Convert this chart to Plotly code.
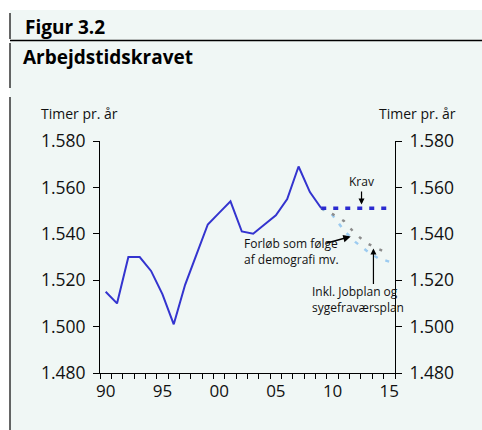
import plotly.graph_objects as go

# ---- data ----
years = list(range(1990, 2010))
hours = [1515, 1510, 1530, 1530, 1524, 1514, 1501, 1518, 1531, 1544,
         1549, 1554, 1541, 1540, 1544, 1548, 1555, 1569, 1558, 1551]
proj_years = [2009, 2010, 2011, 2012, 2013, 2014, 2015]
krav = [1551, 1551, 1551, 1551, 1551, 1551, 1551]
inkl_jobplan = [1551, 1548.5, 1545.5, 1540, 1536, 1533.5, 1531.5]
demografi = [1551, 1548, 1541.5, 1536.5, 1532.7, 1529.5, 1528]
x_tickvals = [1990, 1995, 2000, 2005, 2010, 2015]
x_ticktext = ["90", "95", "00", "05", "10", "15"]
y_tickvals = [1480, 1500, 1520, 1540, 1560, 1580]

W, H = 482, 430
L, R, T, B = 100, 395, 141, 373
BG = "#F0F7F5"
FONT = "Open Sans"


def px(x):
    return (x - L) / (R - L)


def py(y):
    return (B - y) / (B - T)


fig = go.Figure()
fig.add_trace(go.Scatter(x=proj_years, y=demografi, mode="lines",
                         line=dict(color="#9CCBF0", width=2.5, dash="4px,8px"),
                         showlegend=False, hoverinfo="skip"))
fig.add_trace(go.Scatter(x=proj_years, y=inkl_jobplan, mode="lines",
                         line=dict(color="#8C8C8C", width=2.5, dash="3px,9px"),
                         showlegend=False, hoverinfo="skip"))
fig.add_trace(go.Scatter(x=years, y=hours, mode="lines",
                         line=dict(color="#3434CF", width=2),
                         showlegend=False))
fig.add_trace(go.Scatter(x=proj_years, y=krav, mode="lines", yaxis="y2",
                         line=dict(color="#2B2BD0", width=3.5, dash="5px,7px"),
                         showlegend=False))

axis_common = dict(range=[1480, 1580], tickvals=y_tickvals, tickformat=",d",
                   showline=True, linecolor="black", linewidth=1,
                   ticks="outside", ticklen=6, tickcolor="black",
                   showgrid=False, zeroline=False, ticklabelstandoff=4,
                   tickfont=dict(family=FONT, size=17.5, color="#111111"))

fig.update_layout(
    width=W, height=H,
    margin=dict(l=L, r=W - R, t=T, b=H - B),
    paper_bgcolor=BG, plot_bgcolor=BG,
    separators=",.",
    xaxis=dict(range=[1989.5, 2015.5], tickvals=x_tickvals, ticktext=x_ticktext,
               ticks="", showline=True, linecolor="black", linewidth=1,
               showgrid=False, zeroline=False, ticklabelstandoff=3,
               tickfont=dict(family=FONT, size=17, color="#111111"),
               minor=dict(tickmode="array",
                          tickvals=[1989.5 + k for k in range(27)],
                          ticks="outside", ticklen=5, tickcolor="black",
                          showgrid=False)),
    yaxis=dict(**axis_common),
    yaxis2=dict(**axis_common, overlaying="y", side="right"),
)

# frame: white strips and black rules
shapes = [
    dict(type="rect", xref="paper", yref="paper", x0=px(0), x1=px(W), y0=py(10), y1=py(0),
         fillcolor="white", line=dict(width=0), layer="below"),
    dict(type="rect", xref="paper", yref="paper", x0=px(0), x1=px(10), y0=py(H), y1=py(0),
         fillcolor="white", line=dict(width=0), layer="below"),
    dict(type="line", xref="paper", yref="paper", x0=px(10), x1=px(10), y0=py(13), y1=py(39),
         line=dict(color="black", width=1.2)),
    dict(type="line", xref="paper", yref="paper", x0=px(10), x1=px(W), y0=py(40.5), y1=py(40.5),
         line=dict(color="black", width=1.5)),
    dict(type="line", xref="paper", yref="paper", x0=px(10), x1=px(10), y0=py(43), y1=py(88),
         line=dict(color="black", width=1.2)),
    dict(type="line", xref="paper", yref="paper", x0=px(10), x1=px(10), y0=py(97), y1=py(H),
         line=dict(color="black", width=1.2)),
]
fig.update_layout(shapes=shapes)

ann = []
ann.append(dict(xref="paper", yref="paper", x=px(23), y=py(27), xanchor="left", yanchor="middle",
                text="<b>Figur 3.2</b>", showarrow=False,
                font=dict(family=FONT, size=19, color="black")))
ann.append(dict(xref="paper", yref="paper", x=px(21), y=py(57), xanchor="left", yanchor="middle",
                text="<b>Arbejdstidskravet</b>", showarrow=False,
                font=dict(family=FONT, size=19, color="black")))
ann.append(dict(xref="paper", yref="paper", x=px(79), y=py(113), xanchor="center", yanchor="middle",
                text="Timer pr. år", showarrow=False,
                font=dict(family=FONT, size=14, color="#111111")))
ann.append(dict(xref="paper", yref="paper", x=px(417), y=py(113), xanchor="center", yanchor="middle",
                text="Timer pr. år", showarrow=False,
                font=dict(family=FONT, size=14, color="#111111")))
# Krav
ann.append(dict(xref="x", yref="y", x=2012.55, y=1552.6, ax=0, ay=-13,
                text="Krav", showarrow=True, arrowhead=2, arrowsize=1, arrowwidth=1.2,
                arrowcolor="black", standoff=0, yanchor="bottom",
                font=dict(family=FONT, size=12, color="#111111")))
# Forløb
ann.append(dict(xref="x", yref="y", x=2011.6, y=1538.8,
                axref="pixel", ayref="pixel", ax=-26, ay=7, showarrow=True,
                arrowhead=2, arrowsize=1, arrowwidth=1.5, arrowcolor="black", text=""))
ann.append(dict(xref="paper", yref="paper", x=px(242), y=py(251.5), xanchor="left", yanchor="middle",
                text="Forløb som følge<br>af demografi mv.", showarrow=False, align="left",
                font=dict(family=FONT, size=12, color="#111111")))
# Inkl. Jobplan
ann.append(dict(xref="x", yref="y", x=2013.6, y=1533.7, ax=0, ay=37, showarrow=True,
                arrowhead=2, arrowsize=1, arrowwidth=1.2, arrowcolor="black", text=""))
ann.append(dict(xref="paper", yref="paper", x=px(310), y=py(299), xanchor="left", yanchor="middle",
                text="Inkl. Jobplan og<br>sygefraværsplan", showarrow=False, align="left",
                font=dict(family=FONT, size=12, color="#111111")))
fig.update_layout(annotations=ann)

fig.write_html("out.html", config={"displayModeBar": False},
               post_script="document.body.style.margin='0';")
